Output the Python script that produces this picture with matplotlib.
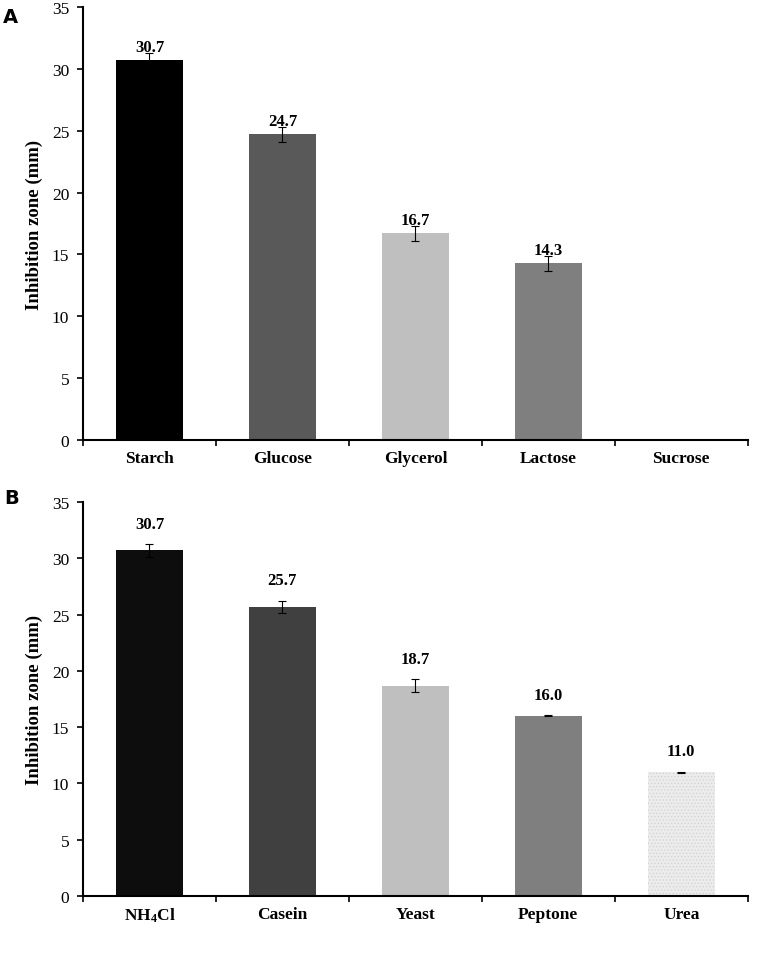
import matplotlib
matplotlib.use("Agg")
import matplotlib.pyplot as plt
import numpy as np

plt.rcParams['font.family'] = ['Liberation Serif', 'DejaVu Serif']
plt.rcParams['hatch.linewidth'] = 0.6
plt.rcParams['mathtext.default'] = 'regular'

cats_a = ["Starch", "Glucose", "Glycerol", "Lactose", "Sucrose"]
vals_a = [30.7, 24.7, 16.7, 14.3, 0.0]
err_a = [0.6, 0.6, 0.6, 0.6, 0.0]
colors_a = ["#000000", "#595959", "#bfbfbf", "#7f7f7f", "#ffffff"]

cats_b = ["NH$_4$Cl", "Casein", "Yeast", "Peptone", "Urea"]
vals_b = [30.7, 25.7, 18.7, 16.0, 11.0]
err_b = [0.55, 0.55, 0.55, 0.05, 0.05]
colors_b = ["#0d0d0d", "#404040", "#bfbfbf", "#7f7f7f", "#ececec"]

yticks = [0, 5, 10, 15, 20, 25, 30, 35]

fig = plt.figure(figsize=(7.63, 9.54), dpi=100)
axA = fig.add_axes([0.1088, 0.5377, 0.8712, 0.4539])
axB = fig.add_axes([0.1088, 0.0597, 0.8712, 0.4130])

def draw(ax, cats, vals, errs, colors, shown, lab_off):
    x = np.arange(len(cats))
    bars = ax.bar(x, vals, width=0.5, color=colors, edgecolor='none', zorder=2)
    ax.errorbar(x, vals, yerr=errs, fmt='none', ecolor='black', elinewidth=0.8,
                capsize=3, capthick=0.8, zorder=3)
    for xi, v, e, s in zip(x, vals, errs, shown):
        if s:
            ax.annotate(f"{v:.1f}", (xi, v + e), xytext=(0, lab_off), textcoords='offset points',
                        ha='center', va='baseline', fontsize=12, fontweight='bold', zorder=4)
    ax.set_xlim(-0.5, len(cats) - 0.5)
    ax.set_ylim(0, 35)
    ax.set_yticks(yticks)
    ax.set_xticks(x)
    ax.set_xticklabels(cats, fontsize=12.5, fontweight='bold')
    ax.set_xticks(np.arange(len(cats) + 1) - 0.5, minor=True)
    ax.tick_params(axis='x', which='major', length=0, pad=7)
    ax.tick_params(axis='x', which='minor', length=4, width=1.2, direction='out')
    ax.tick_params(axis='y', length=4, width=1.2, direction='out', labelsize=12.5, pad=6)
    for s in ['top', 'right']:
        ax.spines[s].set_visible(False)
    for s in ['left', 'bottom']:
        ax.spines[s].set_linewidth(1.5)
    ax.set_ylabel("Inhibition zone (mm)", fontsize=13.5, fontweight='bold', labelpad=6)
    return bars

draw(axA, cats_a, vals_a, err_a, colors_a, [True, True, True, True, False], 1.5)
barsB = draw(axB, cats_b, vals_b, err_b, colors_b, [True] * 5, 12)
barsB[4].set_hatch('.....')
barsB[4].set_edgecolor('#d4d4d4')
barsB[4].set_linewidth(0)

fig.text(0.004, 0.982, "A", fontsize=14, fontweight='bold', family='DejaVu Sans', va='center')
fig.text(0.006, 0.477, "B", fontsize=14, fontweight='bold', family='DejaVu Sans', va='center')

fig.savefig("out.png", dpi=100)
